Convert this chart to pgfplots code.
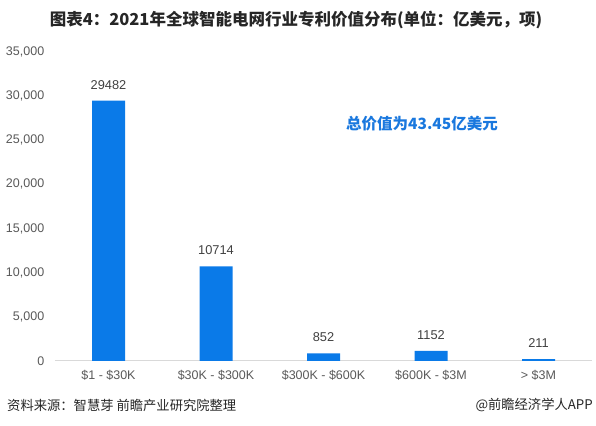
\documentclass[border=0pt]{standalone}
\usepackage{pgfplots}
\pgfplotsset{compat=1.18}
\usepackage{fontspec}
\setmainfont{Liberation Sans}
\newfontfamily\cjk{Noto Sans CJK SC}
\definecolor{barblue}{HTML}{0A7AE8}
\definecolor{annblue}{HTML}{1A78DE}
\definecolor{tickgray}{HTML}{595959}
\definecolor{valgray}{HTML}{404040}
\definecolor{basegray}{HTML}{D9D9D9}
\definecolor{titlecol}{HTML}{262626}
\begin{document}
\begin{tikzpicture}[x=1pt,y=1pt]
\path[use as bounding box] (0,0) rectangle (596,425);
\begin{axis}[
  at={(54.75pt,64pt)}, anchor=south west,
  scale only axis, width=537.5pt, height=309pt,
  xmin=-0.5, xmax=4.5, ymin=0, ymax=35000,
  ybar, bar width=33pt,
  axis x line*=bottom, axis y line*=left,
  x axis line style={draw=basegray, line width=1pt},
  y axis line style={draw=none},
  major tick length=0pt,
  xtick={0,1,2,3,4},
  xticklabels={\$1 - \$30K, \$30K - \$300K, \$300K - \$600K, \$600K - \$3M, > \$3M},
  ytick={0,5000,10000,15000,20000,25000,30000,35000},
  scaled y ticks=false,
  /pgf/number format/assume math mode=true,
  /pgf/number format/1000 sep={},
  ticklabel style={color=tickgray, font=\fontsize{12.5}{14}\selectfont},
  yticklabel style={anchor=east, xshift=-7pt, /pgf/number format/fixed, /pgf/number format/1000 sep={,}},
  xticklabel style={yshift=-6pt},
  nodes near coords,
  every node near coord/.append style={color=valgray, font=\fontsize{12.8}{14}\selectfont, yshift=8pt},
  clip=false,
]
\addplot[fill=barblue, draw=none] coordinates {(0,29482) (1,10714) (2,852) (3,1152) (4,211)};
\end{axis}
\node[font=\cjk\bfseries\fontsize{16.5}{18}\selectfont, color=titlecol] at (296,405) {图表4：2021年全球智能电网行业专利价值分布(单位：亿美元，项)};
\node[font=\cjk\bfseries\fontsize{15.5}{17}\selectfont, color=annblue] at (422,301) {总价值为43.45亿美元};
\node[font=\cjk\fontsize{13.3}{15}\selectfont, color=titlecol, anchor=west, inner sep=0pt] at (7,20) {资料来源：智慧芽 前瞻产业研究院整理};
\node[font=\cjk\fontsize{13.3}{15}\selectfont, color=titlecol, anchor=east, inner sep=0pt] at (593,20) {@前瞻经济学人APP};
\end{tikzpicture}
\end{document}
